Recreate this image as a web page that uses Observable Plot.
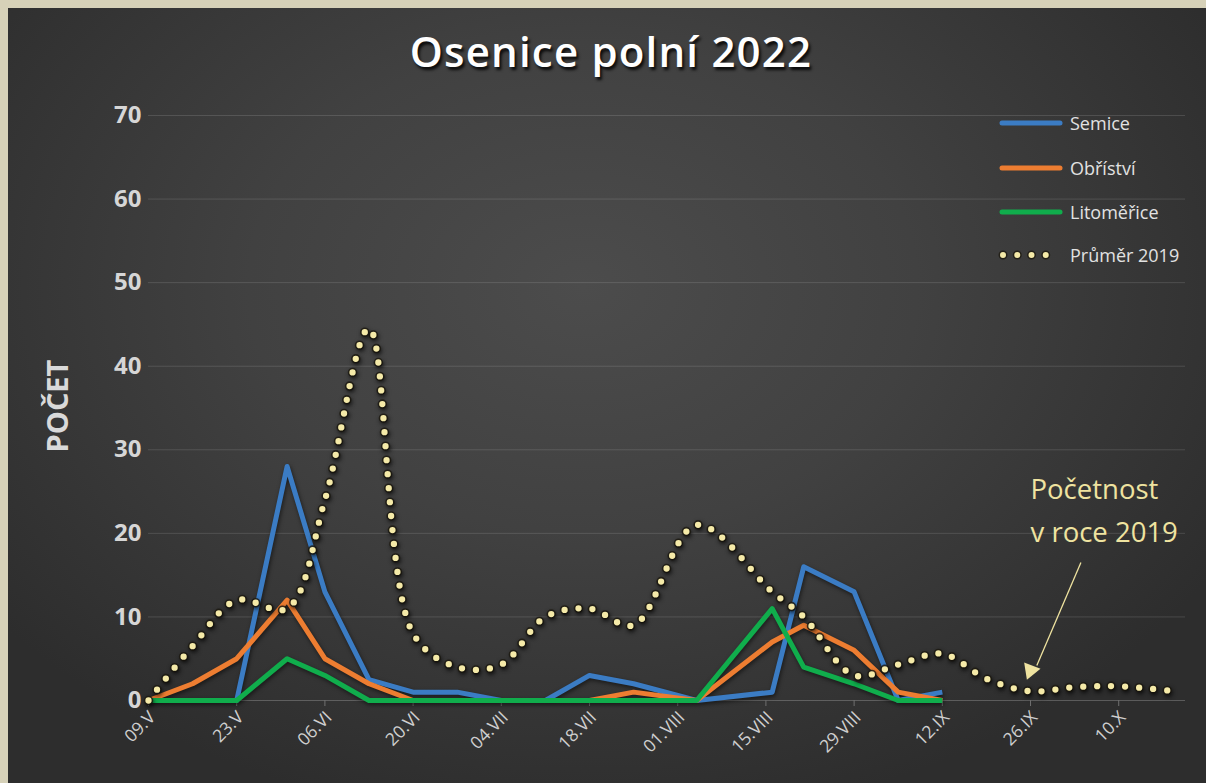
<!DOCTYPE html>
<html>
<head>
<meta charset="utf-8">
<script src="https://cdn.jsdelivr.net/npm/d3@7"></script>
<script src="https://cdn.jsdelivr.net/npm/@observablehq/plot@0.6"></script>
<style>
  html, body { margin: 0; padding: 0; background: #d6d1b8; }
  #frame { position: relative; width: 1206px; height: 783px; background: #d6d1b8; overflow: hidden; font-family: "Open Sans", sans-serif; }
  #panel { position: absolute; left: 8px; top: 8px; right: 0; bottom: 0;
    background: radial-gradient(ellipse 62% 70% at 48% 36%, #4c4c4c 0%, #414141 45%, #2d2d2d 100%); }
  #title { position: absolute; left: 0; width: 1222px; top: 22px; text-align: center; color: #ffffff;
    font-size: 42px; font-weight: 600; letter-spacing: 1.2px; text-shadow: 2px 3px 3px rgba(0,0,0,0.85); }
  #ylabel { position: absolute; left: 56px; top: 406px; transform: translate(-50%, -50%) rotate(-90deg);
    color: #d9d9d9; font-weight: 700; font-size: 29px; white-space: nowrap; }
  #chart { position: absolute; left: 0; top: 0; }
  .leg { position: absolute; left: 998px; height: 24px; display: flex; align-items: center; color: #e2e2e2; font-size: 18px; white-space: nowrap; }
  .leg svg { margin-right: 6px; }
  .chart g[aria-label="line"] { filter: drop-shadow(1px 2px 2px rgba(0,0,0,0.55)); }
</style>
</head>
<body>
<div id="frame">
  <div id="panel"></div>
  <div id="title">Osenice polní 2022</div>
  <div id="ylabel">POČET</div>
  <div id="chart"></div>
</div>
<script>
// ---- data ----
const seriesNames = ["Semice", "Obříství", "Litoměřice", "Průměr 2019"];
const seriesColors = ["#3b7cc4", "#ed7d31", "#10ad4c", "#f5eaa8"];

const dates2022 = ["2022-05-09","2022-05-16","2022-05-23","2022-05-31","2022-06-06","2022-06-13","2022-06-20","2022-06-27","2022-07-04","2022-07-11","2022-07-18","2022-07-25","2022-08-04","2022-08-16","2022-08-21","2022-08-29","2022-09-05","2022-09-12"];
const semice     = [0, 0, 0, 28, 13, 2.5, 1, 1, 0, 0, 3, 2, 0, 1, 16, 13, 0, 1];
const obristvi   = [0, 2, 5, 12, 5, 2, 0, 0, 0, 0, 0, 1, 0, 7, 9, 6, 1, 0];
const litomerice = [0, 0, 0, 5, 3, 0, 0, 0, 0, 0, 0, 0, 0, 11, 4, 2, 0, 0];

const dates2019 = ["2022-05-09","2022-05-16","2022-05-23","2022-05-31","2022-06-06","2022-06-13","2022-06-20","2022-06-27","2022-07-04","2022-07-11","2022-07-18","2022-07-25","2022-08-04","2022-08-16","2022-08-21","2022-08-29","2022-09-05","2022-09-12","2022-09-19","2022-09-26","2022-10-03","2022-10-10","2022-10-19"];
const prumer2019 = [0, 6.5, 12, 11, 24, 44.5, 8, 4, 4.3, 10, 11, 9, 21, 13, 10, 3, 4.3, 5.6, 2.6, 1.1, 1.6, 1.7, 1.1];

const xTickDates  = ["2022-05-09","2022-05-23","2022-06-06","2022-06-20","2022-07-04","2022-07-18","2022-08-01","2022-08-15","2022-08-29","2022-09-12","2022-09-26","2022-10-10"];
const xTickLabels = ["09.V","23.V","06.VI","20.VI","04.VII","18.VII","01.VIII","15.VIII","29.VIII","12.IX","26.IX","10.X"];
const yTicks = [0, 10, 20, 30, 40, 50, 60, 70];

const annotationText = "Početnost\nv roce 2019";

// ---- build ----
const parse = d3.utcParse("%Y-%m-%d");
const long2022 = [];
[semice, obristvi, litomerice].forEach((vals, s) => {
  vals.forEach((v, i) => long2022.push({date: parse(dates2022[i]), value: v, series: seriesNames[s]}));
});
const data2019 = prumer2019.map((v, i) => ({date: parse(dates2019[i]), value: v, series: seriesNames[3]}));
const ticks = xTickDates.map((d, i) => ({date: parse(d), label: xTickLabels[i]}));
const start = parse("2022-05-09");
const xEnd = new Date(+start + 164.6 * 864e5);

const chart = Plot.plot({
  className: "chart",
  width: 1206, height: 783,
  marginLeft: 148, marginRight: 21, marginTop: 115, marginBottom: 83,
  style: {background: "transparent", color: "#d4d4d4", fontFamily: "'Open Sans', sans-serif", overflow: "visible"},
  x: {type: "utc", domain: [start, xEnd], axis: null},
  y: {domain: [0, 70], axis: null},
  color: {domain: seriesNames, range: seriesColors},
  marks: [
    Plot.gridY(yTicks.filter(d => d > 0), {stroke: "#ffffff", strokeOpacity: 0.13, strokeWidth: 1}),
    Plot.ruleY([0], {stroke: "#ffffff", strokeOpacity: 0.22}),
    Plot.axisY(yTicks, {tickSize: 0, tickPadding: 7, fontSize: 24, fontWeight: "bold", label: null, fill: "#d6d6d6"}),
    Plot.ruleX(ticks, {x: "date", y1: 0, y2: 0, insetBottom: -6, stroke: "#707070", strokeWidth: 1}),
    Plot.text(ticks, {x: "date", y: 0, text: "label", rotate: -45, textAnchor: "end", lineAnchor: "middle",
      dx: 4, dy: 14, fontSize: 17.5, fill: "#cfcfcf"}),
    Plot.line(long2022, {x: "date", y: "value", z: "series", stroke: "series", strokeWidth: 5, strokeLinejoin: "round", strokeLinecap: "butt"}),
    Plot.line(data2019, {x: "date", y: "value", curve: "catmull-rom", stroke: "#1e1a10", strokeOpacity: 0.8, strokeWidth: 9.5,
      strokeDasharray: "0 14", strokeLinecap: "round"}),
    Plot.line(data2019, {x: "date", y: "value", curve: "catmull-rom", stroke: seriesColors[3], strokeWidth: 6.3,
      strokeDasharray: "0 14", strokeLinecap: "round"}),
    Plot.text([annotationText], {x: parse("2022-09-26"), y: 27.7, text: d => d, textAnchor: "start", lineAnchor: "top",
      lineHeight: 1.55, fontSize: 27.5, fill: "#efe3a0"}),
    Plot.link([{x1: parse("2022-10-04"), y1: 16.5, x2: parse("2022-09-27"), y2: 4.2}],
      {x1: "x1", y1: "y1", x2: "x2", y2: "y2", stroke: "#efe3a0", strokeWidth: 1.3}),
    Plot.dot([{x: parse("2022-09-26"), y: 3.6}], {x: "x", y: "y", symbol: "triangle", r: 6.5, rotate: 201, fill: "#efe3a0", stroke: "none"})
  ]
});
document.getElementById("chart").appendChild(chart);

// ---- legend ----
const legendY = [123, 168, 212, 255];
const frame = document.getElementById("frame");
seriesNames.forEach((name, i) => {
  const row = document.createElement("div");
  row.className = "leg";
  row.style.top = (legendY[i] - 12) + "px";
  const dotted = i === 3;
  row.innerHTML = `<svg width="66" height="12"><line x1="${dotted ? 5 : 4}" y1="6" x2="62" y2="6" stroke="${dotted ? '#1e1a10' : seriesColors[i]}" stroke-opacity="${dotted ? 0.8 : 1}" stroke-width="${dotted ? 9 : 5}" stroke-linecap="round" ${dotted ? 'stroke-dasharray="0 14.25"' : ''}/>${dotted ? `<line x1="5" y1="6" x2="62" y2="6" stroke="${seriesColors[i]}" stroke-width="6" stroke-linecap="round" stroke-dasharray="0 14.25"/>` : ''}</svg><span>${name}</span>`;
  frame.appendChild(row);
});
</script>
</body>
</html>
